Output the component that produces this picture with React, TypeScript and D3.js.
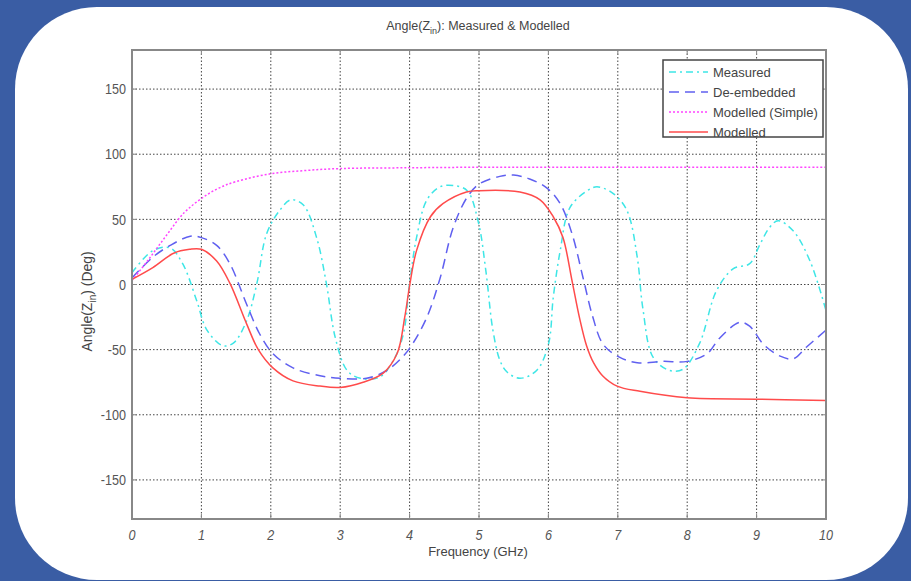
import React from 'react';
import * as d3 from 'd3';

const W = 911;
const H = 581;
const left = 132;
const right = 826;
const top = 50;
const bottom = 519;

const xTicks = [0, 1, 2, 3, 4, 5, 6, 7, 8, 9, 10];
const yTicks = [-150, -100, -50, 0, 50, 100, 150];

// [frequency GHz, angle deg]
const measured: [number, number][] = [
  [0, 9], [0.3, 26], [0.55, 28], [0.73, 16], [0.93, -12], [1.08, -35], [1.31, -47], [1.46, -45],
  [1.65, -28], [1.8, 1], [1.94, 39], [2.13, 57], [2.29, 65], [2.47, 61], [2.66, 36], [2.8, 1],
  [2.93, -41], [3.1, -66], [3.29, -72], [3.57, -71], [3.77, -58], [3.91, -38], [4.0, 1], [4.1, 36],
  [4.25, 65], [4.44, 75], [4.63, 76], [4.83, 72], [4.99, 48], [5.1, 10], [5.2, -35], [5.3, -58],
  [5.4, -67], [5.59, -72], [5.83, -66], [6.0, -46], [6.07, -10], [6.17, 26], [6.31, 59], [6.56, 72],
  [6.7, 75], [6.93, 70], [7.13, 57], [7.28, 21], [7.36, -18], [7.51, -56], [7.75, -66], [7.94, -65],
  [8.18, -45], [8.42, -5], [8.66, 12], [8.9, 16], [9.05, 31], [9.19, 44], [9.31, 49], [9.53, 41],
  [9.77, 18], [10, -20],
];

const deEmbedded: [number, number][] = [
  [0, 5], [0.3, 21], [0.55, 30], [0.84, 37], [1.0, 36], [1.22, 30], [1.41, 16], [1.65, -15],
  [1.84, -38], [2.03, -53], [2.32, -64], [2.71, -70], [3.0, -72], [3.38, -72], [3.67, -66],
  [3.91, -55], [4.05, -45], [4.25, -25], [4.44, 5], [4.63, 44], [4.83, 67], [5.0, 77], [5.3, 83],
  [5.5, 84], [5.73, 81], [5.98, 74], [6.17, 62], [6.34, 39], [6.5, 5], [6.64, -25], [6.79, -46],
  [7.03, -56], [7.28, -60], [7.65, -59], [8.0, -59], [8.29, -53], [8.47, -41], [8.76, -29],
  [8.9, -32], [9.1, -46], [9.34, -55], [9.53, -57], [9.72, -48], [10, -35],
];

const modelledSimple: [number, number][] = [
  [0, 3], [0.25, 20], [0.5, 38], [0.75, 55], [1, 66], [1.25, 74], [1.5, 79], [2, 85], [2.5, 87.5],
  [3, 89], [4, 89.6], [5, 90], [6, 90], [7, 90], [8, 90], [9, 90], [10, 90],
];

const modelled: [number, number][] = [
  [0, 4], [0.3, 13], [0.6, 24], [0.83, 27], [1.0, 27], [1.22, 18], [1.41, 1], [1.65, -30],
  [1.82, -50], [2.03, -64], [2.32, -74], [2.71, -78], [3.0, -79], [3.33, -75], [3.62, -68],
  [3.82, -53], [3.93, -25], [4.0, -1], [4.1, 26], [4.3, 52], [4.48, 62], [4.82, 71], [5.0, 72],
  [5.59, 71], [5.88, 65], [6.07, 52], [6.21, 36], [6.34, 3], [6.45, -26], [6.55, -47], [6.65, -60],
  [6.78, -70], [6.99, -78], [7.32, -82], [8.0, -87], [9.0, -88], [10, -89],
];

const series = [
  { name: 'Measured', data: measured, color: '#3ee6e6', dash: '7,4,2,4' },
  { name: 'De-embedded', data: deEmbedded, color: '#6060f0', dash: '10,6' },
  { name: 'Modelled (Simple)', data: modelledSimple, color: '#ff44ff', dash: '2,2' },
  { name: 'Modelled', data: modelled, color: '#ff4b4b', dash: '' },
];

const font = "'Liberation Sans', Arial, sans-serif";
const sx = 0.84; // condensed tick labels

export default function App() {
  const x = d3.scaleLinear().domain([0, 10]).range([left, right]);
  const y = d3.scaleLinear().domain([-180, 180]).range([bottom, top]);
  const line = d3.line<[number, number]>()
    .x(d => x(d[0]))
    .y(d => y(d[1]))
    .curve(d3.curveCatmullRom.alpha(0.5));

  const lx = 663, ly = 60, lw = 160, lh = 77;

  return (
    <svg width={W} height={H} style={{ position: 'fixed', left: 0, top: 0 }}>
      <rect x={0} y={0} width={W} height={H} fill="#3a5da4" />
      <rect x={15} y={7} width={893} height={573} rx={82} ry={82} fill="#ffffff" />

      {/* grid */}
      <g stroke="#444" strokeWidth={1} strokeDasharray="1.5,2">
        {xTicks.slice(1, -1).map(t => (
          <line key={'gx' + t} x1={x(t)} x2={x(t)} y1={top} y2={bottom} />
        ))}
        {yTicks.map(t => (
          <line key={'gy' + t} x1={left} x2={right} y1={y(t)} y2={y(t)} />
        ))}
      </g>

      {/* curves */}
      {series.map(s => (
        <path key={s.name} d={line(s.data) || ''} fill="none" stroke={s.color}
          strokeWidth={1.5} strokeDasharray={s.dash || undefined} />
      ))}

      {/* axes box */}
      <rect x={left} y={top} width={right - left} height={bottom - top} fill="none" stroke="#888" strokeWidth={2} />
      <g stroke="#888" strokeWidth={1}>
        {xTicks.map(t => (
          <g key={'tx' + t}>
            <line x1={x(t)} x2={x(t)} y1={bottom} y2={bottom - 5} />
            <line x1={x(t)} x2={x(t)} y1={top} y2={top + 5} />
          </g>
        ))}
        {yTicks.map(t => (
          <g key={'ty' + t}>
            <line x1={left} x2={left + 5} y1={y(t)} y2={y(t)} />
            <line x1={right} x2={right - 5} y1={y(t)} y2={y(t)} />
          </g>
        ))}
      </g>

      {/* tick labels */}
      <g fontFamily={font} fontSize={15} fill="#555" transform={`scale(${sx},1)`}>
        {yTicks.map(t => (
          <text key={'ly' + t} x={(left - 6) / sx} y={y(t)} dy="0.35em" textAnchor="end">{t}</text>
        ))}
        {xTicks.map(t => (
          <text key={'lx' + t} x={x(t) / sx} y={bottom + 21} textAnchor="middle" fontStyle="italic">{t}</text>
        ))}
      </g>

      {/* titles */}
      <text x={478} y={30} textAnchor="middle" fontFamily={font} fontSize={12.5} fill="#444">
        Angle(Z<tspan fontSize={9} dy={4}>in</tspan><tspan dy={-4}>): Measured &amp; Modelled</tspan>
      </text>
      <text x={478} y={556} textAnchor="middle" fontFamily={font} fontSize={13} fill="#444">Frequency (GHz)</text>
      <text transform={`translate(92,${y(-13)}) rotate(-90)`} textAnchor="middle" fontFamily={font} fontSize={14} fill="#444">
        Angle(Z<tspan fontSize={10} dy={4}>in</tspan><tspan dy={-4}>) (Deg)</tspan>
      </text>

      {/* legend */}
      <rect x={lx} y={ly} width={lw} height={lh} fill="#fff" stroke="#444" strokeWidth={1.5} />
      {series.map((s, i) => (
        <g key={'lg' + s.name} transform={`translate(${lx},${ly + 12 + i * 20})`}>
          <line x1={6} x2={45} y1={0} y2={0} stroke={s.color} strokeWidth={1.5} strokeDasharray={s.dash || undefined} />
          <text x={50} y={0} dy="0.35em" fontFamily={font} fontSize={13} fill="#444">{s.name}</text>
        </g>
      ))}
    </svg>
  );
}
